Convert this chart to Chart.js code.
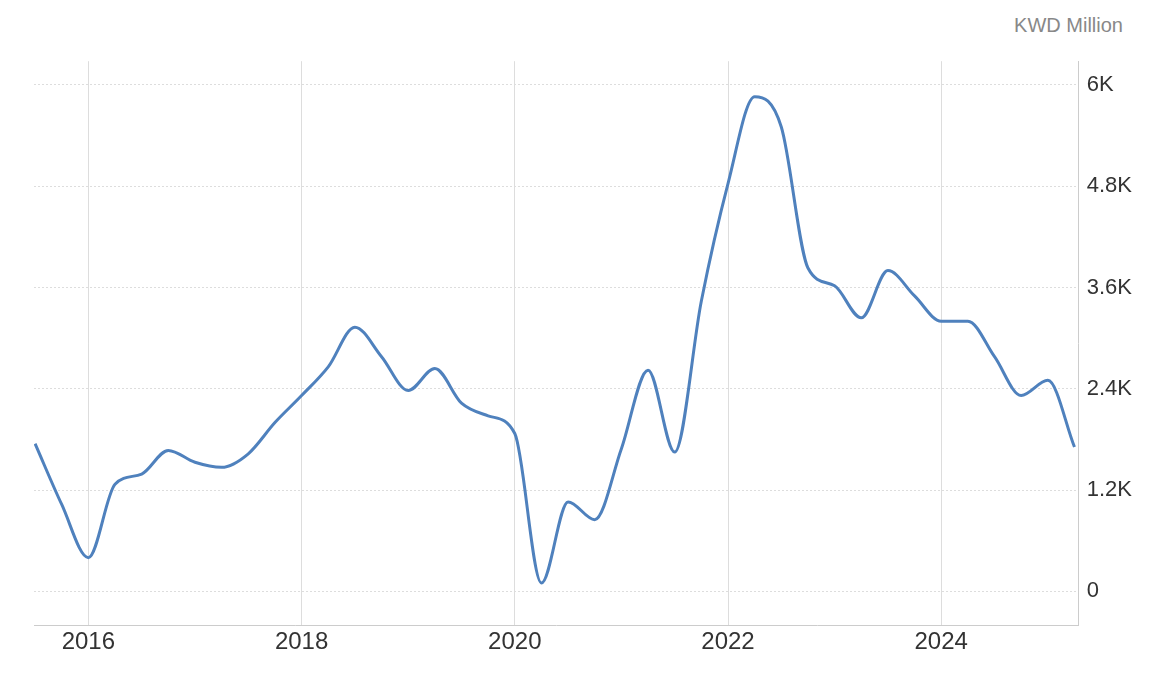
<!DOCTYPE html>
<html>
<head>
<meta charset="utf-8">
<script src="https://cdn.jsdelivr.net/npm/chart.js@4"></script>
<style>
  body { margin: 0; background: #fff; font-family: "Liberation Sans", Arial, sans-serif; }
  #wrap { position: relative; width: 1152px; height: 690px; }
  #unit { position: absolute; right: 29px; top: 14px; color: #888; font-size: 20px; }
  #box { position: absolute; left: 0; top: 40px; width: 1140px; height: 620px; }
</style>
</head>
<body>
<div id="wrap">
  <div id="unit">KWD Million</div>
  <div id="box"><canvas id="chart"></canvas></div>
</div>
<script>
const quarters = [2015.5, 2015.75, 2016, 2016.25, 2016.5, 2016.75, 2017, 2017.25, 2017.5, 2017.75,
  2018, 2018.25, 2018.5, 2018.75, 2019, 2019.25, 2019.5, 2019.75, 2020, 2020.25,
  2020.5, 2020.75, 2021, 2021.25, 2021.5, 2021.75, 2022, 2022.25, 2022.5, 2022.75,
  2023, 2023.25, 2023.5, 2023.75, 2024, 2024.25, 2024.5, 2024.75, 2025, 2025.25];
const values = [1750, 1030, 400, 1270, 1390, 1670, 1530, 1470, 1630, 2000,
  2320, 2660, 3130, 2780, 2380, 2640, 2230, 2080, 1870, 100,
  1060, 850, 1690, 2620, 1650, 3440, 4830, 5860, 5500, 3830,
  3620, 3240, 3800, 3500, 3200, 3200, 2780, 2320, 2500, 1710];
const yTicks = [0, 1200, 2400, 3600, 4800, 6000];
const yLabels = ['0', '1.2K', '2.4K', '3.6K', '4.8K', '6K'];

new Chart(document.getElementById('chart'), {
    type: 'line',
    data: {
        datasets: [{
            data: quarters.map((q, i) => ({ x: q, y: values[i] })),
            borderColor: '#4f81bd',
            borderWidth: 3,
            pointRadius: 0,
            tension: 0.4,
            cubicInterpolationMode: 'monotone'
        }]
    },
    options: {
        responsive: true,
        maintainAspectRatio: false,
        animation: false,
        layout: { padding: { left: 34, right: 0, bottom: 0, top: 6 } },
        plugins: { legend: { display: false }, tooltip: { enabled: false } },
        scales: {
            x: {
                type: 'linear',
                min: 2015.49,
                max: 2025.29,
                afterBuildTicks: axis => { axis.ticks = [2016, 2018, 2020, 2022, 2024].map(v => ({ value: v })); },
                ticks: { color: '#333', font: { size: 24 }, callback: v => String(v), maxRotation: 0 },
                grid: { color: '#ddd', lineWidth: 1, tickLength: 0 },
                border: { display: true, color: '#ccc', dash: [] }
            },
            y: {
                position: 'right',
                min: -400,
                max: 6280,
                afterBuildTicks: axis => { axis.ticks = yTicks.map(v => ({ value: v })); },
                ticks: { color: '#333', font: { size: 22 }, padding: 8,
                    callback: v => yLabels[yTicks.indexOf(v)] },
                grid: { color: '#ddd', tickLength: 0 },
                border: { display: true, color: '#ccc', dash: [2, 2] }
            }
        }
    },
    plugins: [{
        id: 'dots',
        beforeDraw(chart) {
            chart.options.scales.x.grid.borderDash = [2, 2];
        }
    }]
});
</script>
</body>
</html>
